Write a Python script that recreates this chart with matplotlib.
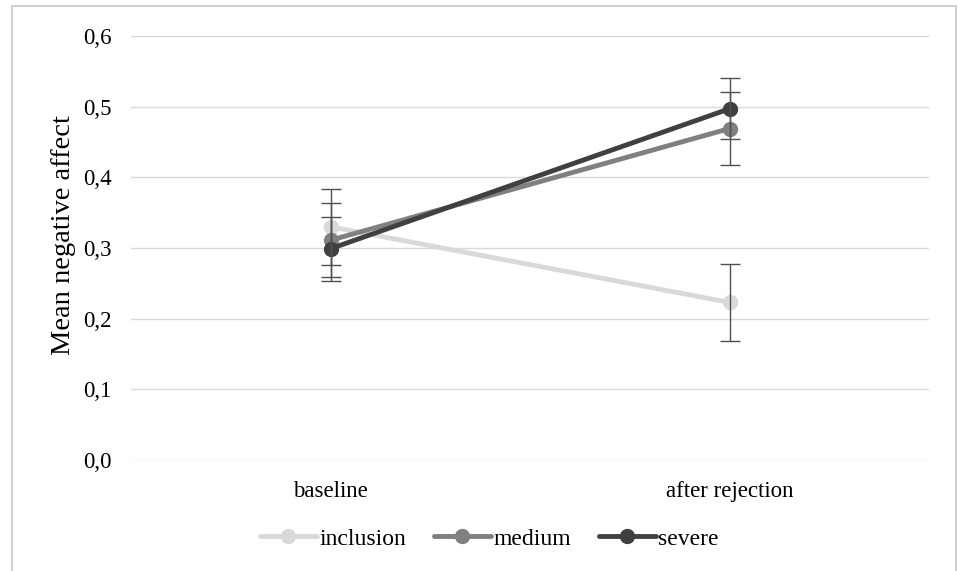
import numpy as np
import matplotlib
matplotlib.use("Agg")
import matplotlib.pyplot as plt
from matplotlib.patches import Rectangle

# data
phases = ["baseline", "after rejection"]
groups = ["inclusion", "medium", "severe"]
inclusion = [0.330, 0.223]
medium = [0.311, 0.469]
severe = [0.299, 0.497]
inclusion_err = [0.054, 0.055]
medium_err = [0.052, 0.052]
severe_err = [0.045, 0.043]
yticks = [0.0, 0.1, 0.2, 0.3, 0.4, 0.5, 0.6]

colors = ["#d9d9d9", "#808080", "#404040"]

plt.rcParams['font.family'] = ['Liberation Serif', 'DejaVu Serif']

fig = plt.figure(figsize=(9.58, 5.71), dpi=100)
ax = fig.add_axes([131/958, 1 - 460/571, (929-131)/958, (460-36)/571])

x = np.array([0.5, 1.5])
series = [inclusion, medium, severe]
errs = [inclusion_err, medium_err, severe_err]
for name, vals, err, c in zip(groups, series, errs, colors):
    ax.plot(x, vals, color=c, lw=3.5, marker='o', ms=10, label=name,
            solid_capstyle='round', zorder=2)
    ax.errorbar(x, vals, yerr=err, fmt='none', ecolor='#505050',
                elinewidth=1, capsize=7, capthick=1, zorder=3)

ax.set_xlim(0, 2)
ax.set_ylim(0, 0.6)
ax.set_yticks(yticks)
ax.set_yticklabels([("%.1f" % t).replace('.', ',') for t in yticks])
ax.set_xticks(x)
ax.set_xticklabels(phases)
ax.tick_params(axis='both', length=0, labelsize=16.5)
ax.tick_params(axis='y', pad=14)
ax.tick_params(axis='x', pad=15)
ax.grid(axis='y', color='#d9d9d9', lw=1)
ax.set_axisbelow(True)
for s in ax.spines.values():
    s.set_visible(False)
ax.set_ylabel("Mean negative affect", fontsize=20.5, labelpad=5)
ax.yaxis.label.set_y(0.53)

ax.legend(loc='center', bbox_to_anchor=(0.449, -0.186), ncol=3, frameon=False,
          fontsize=17, handlelength=2.4, columnspacing=1.2, handletextpad=0.1)

fig.patches.append(Rectangle((11.5/958, -0.05), (956-11.5)/958, 1.05 - 6.5/571,
                             transform=fig.transFigure, fill=False,
                             edgecolor='#d0d0d0', lw=1.5))

fig.savefig("out.png", dpi=100, facecolor='white')
